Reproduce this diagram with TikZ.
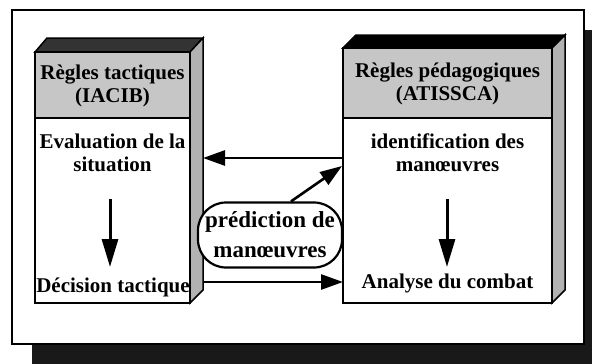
\documentclass[tikz,border=0pt]{standalone}
\usepackage{fontspec}
\setmainfont{Liberation Serif}
\usetikzlibrary{arrows.meta,patterns}
\begin{document}
\begin{tikzpicture}[x=1pt,y=-1pt,
  frame/.style={draw=black,line width=2pt},
  face/.style={draw=black,line width=2pt,fill=white},
  header/.style={draw=black,line width=2pt,fill=gray!45},
  side/.style={draw=black,line width=1.5pt,fill=gray!60},
  topface/.style={draw=black,line width=1.5pt,fill=black!80},
  txt/.style={font=\bfseries\fontsize{21}{23}\selectfont,inner sep=0pt,align=center},
  arr/.style={line width=2.6pt,-{Triangle[length=22pt,width=15pt]}},
  varr/.style={line width=3pt,-{Triangle[length=28pt,width=16pt]}},
  bubble/.style={draw=black,line width=2.2pt,fill=white,rounded corners=28pt,minimum width=144pt,minimum height=65pt,inner sep=0pt}
]
\useasboundingbox (0,0) rectangle (592,364);
% shadow and frame
\fill[black!90] (32,30) rectangle (600,370);
\fill[white] (0,0) rectangle (592,12);
\draw[frame,fill=white] (12,10) rectangle (584,344);

% left box
\coordinate (LA) at (35,52);
\coordinate (LB) at (190,303);
\draw[topface] (35,52) -- (47,38) -- (203,38) -- (190,52) -- cycle;
\draw[side] (190,52) -- (203,38) -- (203,290) -- (190,303) -- cycle;
\draw[face] (LA) rectangle (LB);
\draw[header] (LA) rectangle (190,118);
\node[txt] (lh) at (112.5,86) {Règles tactiques\\(IACIB)};
\node[txt] (l1) at (112.5,153) {Evaluation de la\\situation};
\node[txt] (l2) at (113,287) {Décision tactique};
\coordinate (la1) at (110,199);
\coordinate (la2) at (110,267);
\draw[varr] (la1) -- (la2);

% right box
\coordinate (RA) at (343,48);
\coordinate (RB) at (552,303);
\draw[topface,fill=black] (343,48) -- (356,35) -- (565,35) -- (552,48) -- cycle;
\draw[side] (552,48) -- (565,35) -- (565,290) -- (552,303) -- cycle;
\draw[face] (RA) rectangle (RB);
\draw[header] (RA) rectangle (552,118);
\node[txt] (rh) at (447.5,84) {Règles pédagogiques\\(ATISSCA)};
\node[txt] (r1) at (447.5,153) {identification des\\manœuvres};
\node[txt] (r2) at (447.5,283) {Analyse du combat};
\coordinate (ra1) at (447,199);
\coordinate (ra2) at (447,267);
\draw[varr] (ra1) -- (ra2);

% middle
\node[bubble] (p) at (270,235) {};
\node[txt,font=\bfseries\fontsize{23}{30}\selectfont] (pt) at (270,235) {prédiction de\\manœuvres};

\coordinate (t1) at (343,158);
\coordinate (t2) at (203,158);
\draw[arr] (t1) -- (t2);
\coordinate (d1) at ([xshift=21pt]p.north);
\coordinate (d2) at (342,166);
\draw[arr] (d1) -- (d2);
\coordinate (b1) at (203,282);
\coordinate (b2) at (343,282);
\draw[arr] (b1) -- (b2);
\end{tikzpicture}
\end{document}
